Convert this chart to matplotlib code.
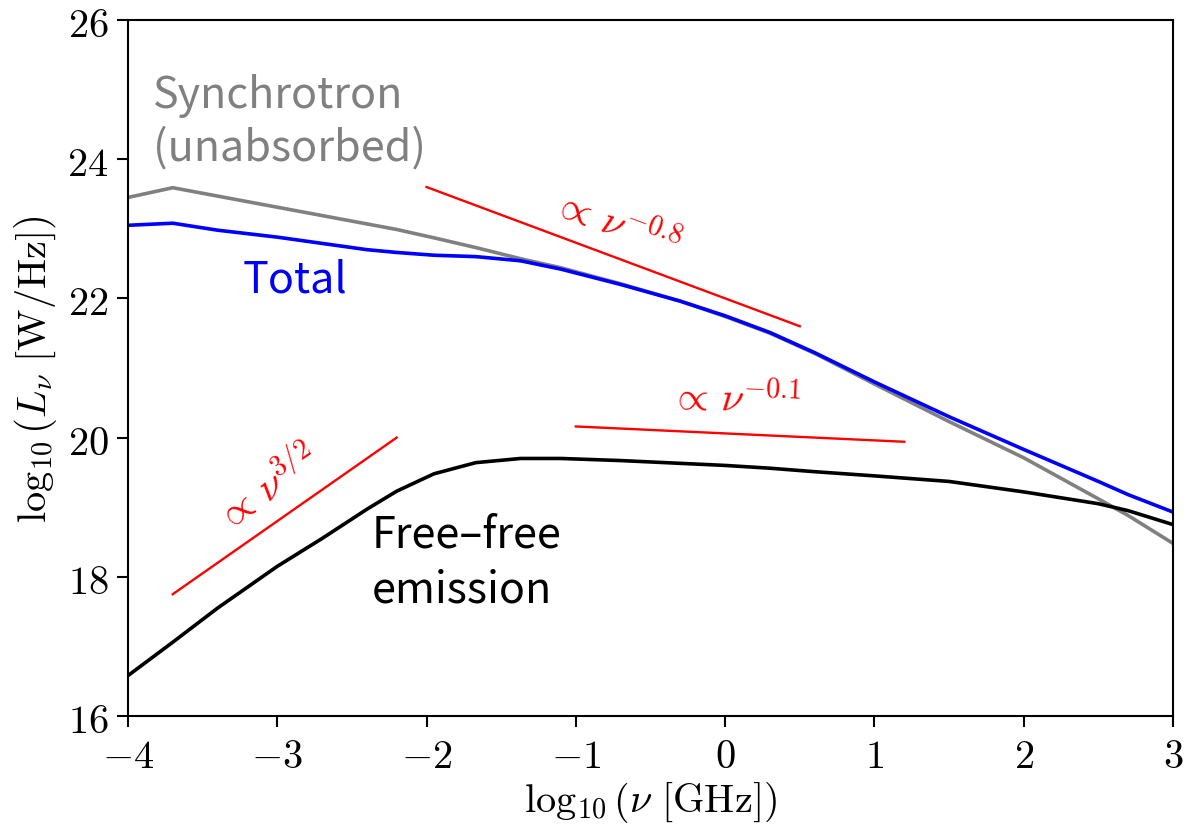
import numpy as np
import matplotlib
matplotlib.use("Agg")
import matplotlib.pyplot as plt
from matplotlib.ticker import FuncFormatter

plt.rcParams['mathtext.fontset'] = 'cm'
plt.rcParams['font.family'] = ['Noto Sans CJK KR', 'DejaVu Sans']

# log10(nu [GHz]) sample points
log_nu = [-4.0, -3.7, -3.4, -3.0, -2.7, -2.4, -2.2, -1.95, -1.67, -1.37, -1.1,
          -0.7, -0.3, 0.0, 0.3, 0.6, 1.0, 1.5, 2.0, 2.5, 2.7, 3.0]

synch_unabs = [23.45, 23.59, 23.47, 23.31, 23.19, 23.07, 22.99, 22.87, 22.73, 22.57, 22.44,
               22.21, 21.96, 21.74, 21.50, 21.21, 20.77, 20.23, 19.71, 19.12, 18.88, 18.48]
total = [23.05, 23.08, 22.98, 22.88, 22.79, 22.70, 22.66, 22.62, 22.60, 22.54, 22.42,
         22.20, 21.96, 21.75, 21.51, 21.22, 20.80, 20.30, 19.83, 19.37, 19.18, 18.93]
free_free = [16.58, 17.06, 17.55, 18.15, 18.55, 18.97, 19.23, 19.48, 19.64, 19.70, 19.70,
             19.67, 19.63, 19.60, 19.56, 19.51, 19.45, 19.37, 19.22, 19.05, 18.95, 18.75]

# guide slopes: (x0, x1), (y0, y1)
slope_32_x, slope_32_y = [-3.7, -2.2], [17.75, 20.0]
slope_08_x, slope_08_y = [-2.0, 0.5], [23.6, 21.6]
slope_01_x, slope_01_y = [-1.0, 1.2], [20.16, 19.94]

fig = plt.figure(figsize=(11.87, 8.29), dpi=100)
ax = fig.add_axes([0.1078, 0.1351, 0.8804, 0.8396])

lw = 2.6
ax.plot(log_nu, synch_unabs, color='gray', lw=lw)
ax.plot(log_nu, total, color='blue', lw=lw)
ax.plot(log_nu, free_free, color='black', lw=lw)

for sx, sy in [(slope_32_x, slope_32_y), (slope_08_x, slope_08_y), (slope_01_x, slope_01_y)]:
    ax.plot(sx, sy, color='red', lw=1.7)

ax.text(-3.07, 19.28, r'$\propto\,\nu^{3/2}$', color='red', fontsize=29,
        rotation=35, rotation_mode='anchor', ha='center', va='center')
ax.text(-0.73, 23.06, r'$\propto\,\nu^{-0.8}$', color='red', fontsize=29,
        rotation=-20.5, rotation_mode='anchor', ha='center', va='center')
ax.text(0.07, 20.55, r'$\propto\,\nu^{-0.1}$', color='red', fontsize=29,
        rotation=-2.5, rotation_mode='anchor', ha='center', va='center')

# curve labels, one line per text so the baselines can be placed
ax.text(-3.83, 24.75, 'Synchrotron', color='gray', fontsize=31, ha='left', va='baseline')
ax.text(-3.83, 24.00, '(unabsorbed)', color='gray', fontsize=31, ha='left', va='baseline')
ax.text(-3.23, 22.10, 'Total', color='blue', fontsize=31, ha='left', va='baseline')
ax.text(-2.37, 18.43, 'Free–free', color='black', fontsize=31, ha='left', va='baseline')
ax.text(-2.37, 17.64, 'emission', color='black', fontsize=31, ha='left', va='baseline')

ax.set_xlim(-4, 3)
ax.set_ylim(16, 26)
ax.set_xticks(np.arange(-4, 4, 1))
ax.set_yticks(np.arange(16, 27, 2))
fmt = FuncFormatter(lambda v, p: r'$%d$' % v)
ax.xaxis.set_major_formatter(fmt)
ax.yaxis.set_major_formatter(fmt)
ax.tick_params(labelsize=29, length=8, width=1.5, pad=6)
for s in ax.spines.values():
    s.set_linewidth(1.5)

ax.set_xlabel(r'$\log_{10}\left(\nu\ [\mathrm{GHz}]\right)$', fontsize=29, labelpad=2)
ax.set_ylabel(r'$\log_{10}\left(L_\nu\ [\mathrm{W/Hz}]\right)$', fontsize=29, labelpad=6)

fig.savefig('out.png', dpi=100)
